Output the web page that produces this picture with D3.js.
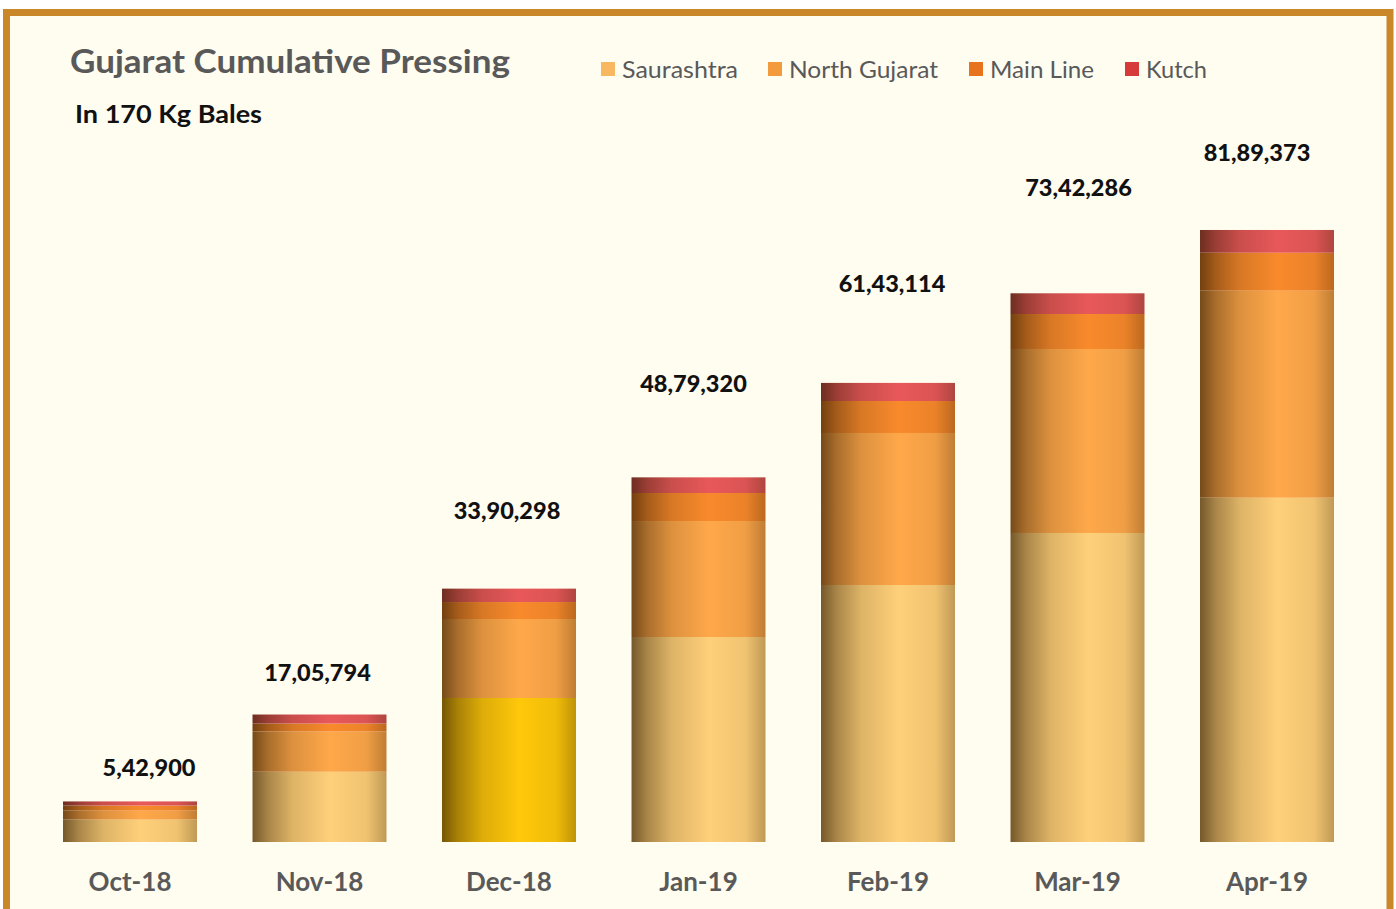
<!DOCTYPE html>
<html><head><meta charset="utf-8">
<script src="https://cdn.jsdelivr.net/npm/d3@7"></script>
<style>html,body{margin:0;padding:0;background:#fff;}svg{display:block;}</style>
</head><body>
<svg id="chart" width="1396" height="909"></svg>
<script>
// ---- data ----
const months = ["Oct-18","Nov-18","Dec-18","Jan-19","Feb-19","Mar-19","Apr-19"];
const seriesNames = ["Saurashtra","North Gujarat","Main Line","Kutch"];
const saurashtra   = [300000, 940000, 1927000, 2743000, 3439000, 4135000, 4607000];
const northGujarat = [120000, 538000, 1057000, 1552000, 2034000, 2462000, 2770000];
const mainLine     = [ 68000, 107000,  227000,  375000,  428000,  468000,  508000];
const kutch        = [ 54900, 120794,  179298,  209320,  242114,  277286,  304373];
const totals       = [542900, 1705794, 3390298, 4879320, 6143114, 7342286, 8189373];
const totalLabels  = ["5,42,900","17,05,794","33,90,298","48,79,320","61,43,114","73,42,286","81,89,373"];

// ---- layout / style ----
const colors = ["#FFD07A","#FFA84A","#F98A2C","#E8585A"];
const legendColors = ["#F8B862","#F39B3C","#E8731E","#D63A3A"];
const highlight = {month:"Dec-18", series:0, color:"#FFC80A"};
const labelDx = [19,-2,-2,-5,4,1,-10];
const labelDy = [25,34,70,85,91,97,69];

const svg = d3.select("#chart");
const font = "Lato, 'Open Sans', sans-serif";

// frame
svg.append("rect").attr("x",0).attr("y",0).attr("width",1396).attr("height",909).attr("fill","#ffffff");
svg.append("rect").attr("x",6.5).attr("y",12.5).attr("width",1383.5).attr("height",1000)
  .attr("fill","#FFFCF0").attr("stroke","#C9872A").attr("stroke-width",7);

const x = d3.scaleBand().domain(months).range([35.25,1361.75]).paddingInner(0.293).paddingOuter(0.1465);
const y = d3.scaleLinear().domain([0, 8.2e6]).range([842, 842 - 8.2e6/13381]);

// gradients
const defs = svg.append("defs");
const dark = "#2a1800";
function makeGrad(id, c){
  const g = defs.append("linearGradient").attr("id",id).attr("x1","0%").attr("x2","100%").attr("y1","0%").attr("y2","0%");
  const st = [[0,0.65],[0.12,0.4],[0.3,0.16],[0.58,0],[0.85,0.07],[1,0.3]];
  st.forEach(([o,t]) => g.append("stop").attr("offset",(o*100)+"%").attr("stop-color", d3.interpolateRgb(c,dark)(t)));
}
colors.forEach((c,i)=>makeGrad("g"+i,c));
makeGrad("ghl", highlight.color);

const seriesVals = [saurashtra, northGujarat, mainLine, kutch];
const rows = months.map((m,i)=>{ const o={month:m}; seriesNames.forEach((s,j)=>o[s]=seriesVals[j][i]); return o; });
const stacked = d3.stack().keys(seriesNames)(rows);

stacked.forEach((layer, si)=>{
  svg.append("g").selectAll("rect").data(layer).join("rect")
    .attr("x", d=>x(d.data.month))
    .attr("width", x.bandwidth())
    .attr("y", d=>y(d[1]))
    .attr("height", d=>y(d[0])-y(d[1]))
    .attr("fill", d=> (d.data.month===highlight.month && si===highlight.series) ? "url(#ghl)" : "url(#g"+si+")");
});

// total labels
svg.append("g").selectAll("text").data(months).join("text")
  .attr("x",(m,i)=>x(m)+x.bandwidth()/2+labelDx[i])
  .attr("y",(m,i)=>y(totals[i])-labelDy[i])
  .attr("text-anchor","middle")
  .attr("font-family",font).attr("font-weight",900).attr("font-size",23.5)
  .attr("fill","#111")
  .text((m,i)=>totalLabels[i]);

// x axis
const xAxis = svg.append("g").attr("transform","translate(0,842)")
  .call(d3.axisBottom(x).tickSize(0).tickPadding(0));
xAxis.select(".domain").remove();
xAxis.selectAll("text").attr("font-family",font).attr("font-weight","bold").attr("font-size",26)
  .attr("fill","#595959").attr("dy",null).attr("y",49);

// title
svg.append("text").attr("x",70).attr("y",73).attr("font-family",font).attr("font-weight","bold")
  .attr("font-size",32).attr("fill","#595959").attr("textLength",440).attr("lengthAdjust","spacingAndGlyphs")
  .text("Gujarat Cumulative Pressing");
svg.append("text").attr("x",75).attr("y",123).attr("font-family",font).attr("font-weight","bold")
  .attr("font-size",25).attr("fill","#111").attr("textLength",187).attr("lengthAdjust","spacingAndGlyphs")
  .text("In 170 Kg Bales");

// legend
const legX = [601,768,969,1125];
const legW = [116,149,104,61];
const leg = svg.append("g");
seriesNames.forEach((s,i)=>{
  leg.append("rect").attr("x",legX[i]).attr("y",62).attr("width",14).attr("height",14).attr("fill",legendColors[i]);
  leg.append("text").attr("x",legX[i]+21).attr("y",78).attr("font-family",font).attr("font-size",23)
    .attr("fill","#595959").attr("textLength",legW[i]).attr("lengthAdjust","spacingAndGlyphs").text(s);
});
</script>
</body></html>
